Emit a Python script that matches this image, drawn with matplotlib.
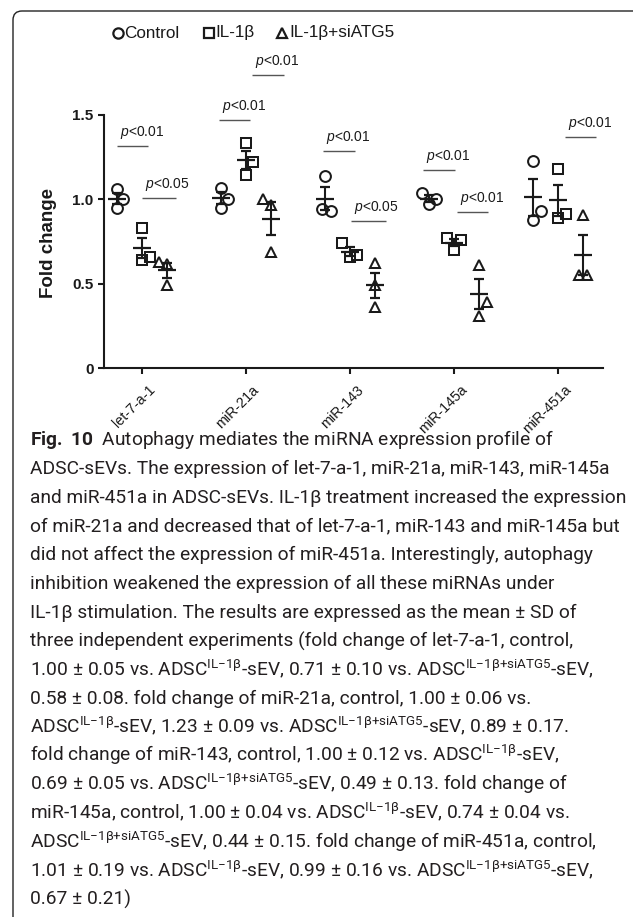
import numpy as np
import matplotlib
matplotlib.use('Agg')
import matplotlib.pyplot as plt
import matplotlib.transforms as mtransforms
from matplotlib.lines import Line2D
from matplotlib.patches import FancyBboxPatch

# ---------------- data ----------------
categories = ['let-7-a-1', 'miR-21a', 'miR-143', 'miR-145a', 'miR-451a']
group_names = ['Control', 'IL-1β', 'IL-1β+siATG5']
control = [[1.06, 1.00, 0.95], [1.07, 1.00, 0.95], [1.14, 0.94, 0.93],
           [1.04, 1.00, 0.97], [1.23, 0.93, 0.88]]
il1b = [[0.83, 0.64, 0.66], [1.335, 1.22, 1.145], [0.74, 0.67, 0.66],
        [0.77, 0.76, 0.70], [1.18, 0.915, 0.89]]
il1b_siatg5 = [[0.63, 0.615, 0.49], [1.00, 0.965, 0.69], [0.62, 0.49, 0.36],
               [0.61, 0.39, 0.31], [0.91, 0.55, 0.55]]
yticks = [0, 0.5, 1.0, 1.5]
ytick_labels = ['0', '0.5', '1.0', '1.5']
sig_cat = [0, 0, 1, 1, 2, 2, 3, 3, 4]
sig_y = [1.317, 1.008, 1.47, 1.738, 1.287, 0.872, 1.174, 0.925, 1.37]
sig_label = ['0.01', '0.05', '0.01', '0.01', '0.01', '0.05', '0.01', '0.01', '0.01']

# ---------------- layout / style ----------------
W, H = 633, 917
sig_span = [(-0.24, 0.06), (0.0, 0.33), (-0.26, 0.04), (0.06, 0.37), (-0.26, 0.05),
            (0.01, 0.35), (-0.30, 0.01), (0.03, 0.33), (0.07, 0.37)]
jitter_px = [
    [[0, 6, 0], [0, 0, 8], [-8, 0, 0]],
    [[0, 7, 0], [0, 7, 0], [-8, 0, 0]],
    [[0, -3, 6], [-8, 7, 0], [0, 0, 0]],
    [[-7, 7, 0], [-7, 7, 0], [0, 8, 0]],
    [[0, 8, 0], [0, 8, 0], [0, -4, 4]],
]
group_offset = [-0.24, 0.0, 0.24]
markers = ['o', 's', '^']
px_per_unit = 104.0
INK = '#1a1a1a'

plt.rcParams['mathtext.fontset'] = 'custom'
plt.rcParams['mathtext.rm'] = 'Roboto'
plt.rcParams['mathtext.bf'] = 'Roboto:bold'
plt.rcParams['mathtext.it'] = 'Liberation Sans:italic'
plt.rcParams['font.family'] = ['Liberation Sans', 'DejaVu Sans']

fig = plt.figure(figsize=(W / 100, H / 100), dpi=100)


def fx(x):
    return x / W


def fy(y):
    return 1 - y / H


ax_left, ax_right, ax_top, ax_bottom = 104, 603, 115, 368
ax = fig.add_axes([fx(ax_left), fy(ax_bottom), (ax_right - ax_left) / W,
                   (ax_bottom - ax_top) / H])
ax.set_xlim(-0.365, -0.365 + (ax_right - ax_left) / px_per_unit)
ax.set_ylim(0, 1.5)

series = [control, il1b, il1b_siatg5]
for g, data in enumerate(series):
    for c in range(len(categories)):
        vals = np.array(data[c])
        xs = c + group_offset[g] + np.array(jitter_px[c][g]) / px_per_unit
        ax.plot(xs, vals, linestyle='none', marker=markers[g], markersize=7.8 if g != 1 else 7.5,
                markerfacecolor='none', markeredgecolor=INK, markeredgewidth=1.45,
                clip_on=False, zorder=3)
        m = vals.mean()
        sem = vals.std(ddof=1) / np.sqrt(len(vals))
        ax.errorbar([c + group_offset[g]], [m], yerr=[sem], fmt='_', color=INK,
                    markersize=12.5, markeredgewidth=1.6, elinewidth=1.5,
                    capsize=3.6, capthick=1.5, zorder=4, clip_on=False)

# significance bars
for cat, (a, b), y, lab in zip(sig_cat, sig_span, sig_y, sig_label):
    ax.plot([cat + a, cat + b], [y, y], color='#555555', lw=1.0, clip_on=False,
            solid_capstyle='butt')
    ax.annotate('$p$<' + lab, xy=(cat + a, y), xytext=(2, 3.5),
                textcoords='offset points', ha='left', va='bottom', fontsize=10,
                color=INK, annotation_clip=False)

# axes styling
for s in ['top', 'right']:
    ax.spines[s].set_visible(False)
for s in ['left', 'bottom']:
    ax.spines[s].set_linewidth(1.5)
    ax.spines[s].set_color(INK)
ax.set_yticks(yticks)
ax.set_yticklabels(ytick_labels, fontsize=11, fontweight='bold', color=INK)
ax.tick_params(axis='y', direction='out', length=4.5, width=1.5, pad=3, colors=INK)
ax.set_xticks(range(len(categories)))
ax.set_xticklabels(categories, fontsize=10.3, rotation=45, ha='right',
                   rotation_mode='anchor', color=INK)
ax.tick_params(axis='x', direction='out', length=4.5, width=1.5, pad=4, colors=INK)
offset = mtransforms.ScaledTranslation(6 / 100, -3 / 100, fig.dpi_scale_trans)
for lbl in ax.get_xticklabels():
    lbl.set_transform(lbl.get_transform() + offset)
ax.set_ylabel('Fold change', fontsize=13.5, fontweight='bold', color=INK)
ax.yaxis.set_label_coords(-0.094, 0.494)

# legend (manual)
leg_y = 33
for mx, tx, mk, name in zip([118, 209, 282], [124, 215, 289], markers, group_names):
    fig.add_artist(Line2D([fx(mx)], [fy(leg_y)], transform=fig.transFigure, marker=mk,
                          markersize=7.4, markerfacecolor='none', markeredgecolor=INK,
                          markeredgewidth=1.6, linestyle='none'))
    fig.text(fx(tx), fy(leg_y), name, fontsize=12.3, va='center', ha='left', color=INK)

# frame with rounded corner
frame = FancyBboxPatch((13, H - 960), 700, 960 - 11, boxstyle='round,pad=0,rounding_size=9',
                       transform=mtransforms.IdentityTransform(), fill=False,
                       edgecolor='#222222', lw=1.0)
fig.add_artist(frame)

# caption
A1 = r'ADSC$^{\mathrm{IL{-}1β}}$-sEV'
A2 = r'ADSC$^{\mathrm{IL{-}1β{+}siATG5}}$-sEV'
caption_lines = [
    r'$\mathbf{Fig.\ 10}$  Autophagy mediates the miRNA expression profile of',
    'ADSC-sEVs. The expression of let-7-a-1, miR-21a, miR-143, miR-145a',
    'and miR-451a in ADSC-sEVs. IL-1β treatment increased the expression',
    'of miR-21a and decreased that of let-7-a-1, miR-143 and miR-145a but',
    'did not affect the expression of miR-451a. Interestingly, autophagy',
    'inhibition weakened the expression of all these miRNAs under',
    'IL-1β stimulation. The results are expressed as the mean ± SD of',
    'three independent experiments (fold change of let-7-a-1, control,',
    '1.00 ± 0.05 vs. ' + A1 + ', 0.71 ± 0.10 vs. ' + A2 + ',',
    '0.58 ± 0.08. fold change of miR-21a, control, 1.00 ± 0.06 vs.',
    A1 + ', 1.23 ± 0.09 vs. ' + A2 + ', 0.89 ± 0.17.',
    'fold change of miR-143, control, 1.00 ± 0.12 vs. ' + A1 + ',',
    '0.69 ± 0.05 vs. ' + A2 + ', 0.49 ± 0.13. fold change of',
    'miR-145a, control, 1.00 ± 0.04 vs. ' + A1 + ', 0.74 ± 0.04 vs.',
    A2 + ', 0.44 ± 0.15. fold change of miR-451a, control,',
    '1.01 ± 0.19 vs. ' + A1 + ', 0.99 ± 0.16 vs. ' + A2 + ',',
    '0.67 ± 0.21)',
]
cap_x, cap_y0, cap_dy = 30, 445, 28.75
cap_texts = []
for i, line in enumerate(caption_lines):
    t = fig.text(fx(cap_x), fy(cap_y0 + i * cap_dy), line, fontsize=12,
                 family=['Roboto', 'DejaVu Sans'],
                 ha='left', va='baseline', color='#231f20')
    cap_texts.append(t)
fig.canvas.draw()
r = fig.canvas.get_renderer()
w = np.mean([cap_texts[k].get_window_extent(r).width for k in (1, 2, 3)])
fs = 12 * 588.0 / w
for t in cap_texts:
    t.set_fontsize(fs)

fig.savefig('out.png', dpi=100)
